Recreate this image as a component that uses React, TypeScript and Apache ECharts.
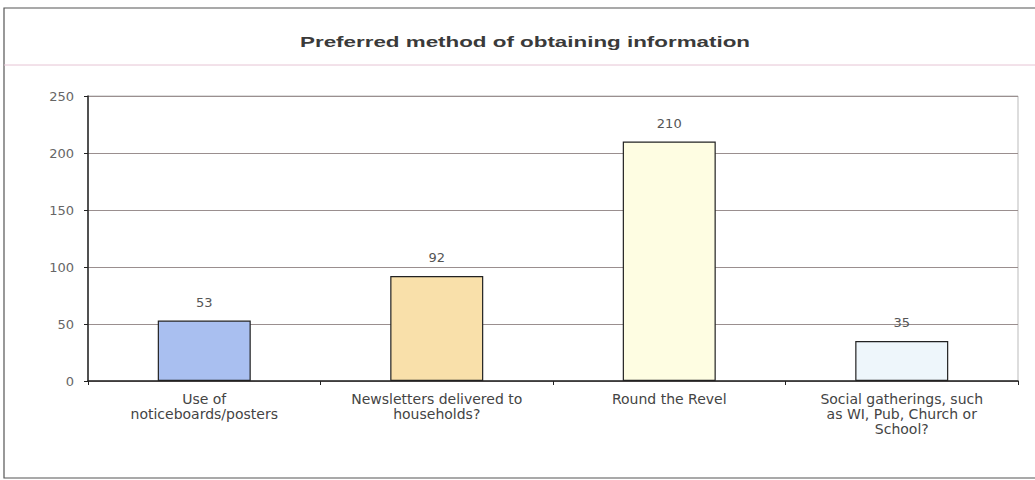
import React, { useEffect, useRef } from "react";
import * as echarts from "echarts";

const categories = [
  "Use of\nnoticeboards/posters",
  "Newsletters delivered to\nhouseholds?",
  "Round the Revel",
  "Social gatherings, such\nas WI, Pub, Church or\nSchool?",
];
const values = [53, 92, 210, 35];
const barColors = ["#a9bff0", "#f9e0aa", "#fefde2", "#eef6fb"];
const yTicks = { min: 0, max: 250, interval: 50 };
const titleText = "Preferred method of obtaining information";

export default function App() {
  const ref = useRef<HTMLDivElement>(null);
  useEffect(() => {
    document.body.style.margin = "0";
    const chart = echarts.init(ref.current!, null, { renderer: "svg" });
    const font = "DejaVu Sans, sans-serif";
    chart.setOption({
      animation: false,
      backgroundColor: "#ffffff",
      graphic: [
        {
          type: "rect",
          shape: { x: 4, y: 8, width: 1040, height: 470 },
          style: { fill: "none", stroke: "#555", lineWidth: 1.2 },
          silent: true,
        },
        {
          type: "line",
          shape: { x1: 4, y1: 65, x2: 1035, y2: 65 },
          style: { stroke: "#e6c4d4", lineWidth: 1 },
          silent: true,
        },
        {
          type: "text",
          x: 525,
          y: 42,
          scaleX: 1.6,
          style: {
            text: titleText,
            textAlign: "center",
            textVerticalAlign: "middle",
            fontFamily: "Liberation Sans, Arial, sans-serif",
            fontSize: 14,
            fontWeight: "bold",
            fill: "#3a3a3a",
          },
          silent: true,
        },
      ],
      grid: { left: 88, right: 17, top: 96, bottom: 99, show: true, borderColor: "#bbb", borderWidth: 1, backgroundColor: "transparent" },
      xAxis: {
        type: "category",
        data: categories,
        axisLine: { lineStyle: { color: "#222", width: 1.5 } },
        axisTick: { show: true, length: 4, lineStyle: { color: "#222" } },
        axisLabel: {
          interval: 0,
          fontFamily: font,
          fontSize: 14,
          color: "#444",
          lineHeight: 15,
          margin: 10,
        },
      },
      yAxis: {
        type: "value",
        min: yTicks.min,
        max: yTicks.max,
        interval: yTicks.interval,
        axisLine: { show: true, lineStyle: { color: "#222", width: 1.5 } },
        axisTick: { show: true, length: 4, lineStyle: { color: "#222" } },
        axisLabel: { fontFamily: font, fontSize: 13, color: "#666", margin: 14 },
        splitLine: { lineStyle: { color: "#9a8f8f", width: 1 } },
      },
      series: [
        {
          type: "bar",
          barWidth: "40%",
          data: values.map((v, i) => ({
            value: v,
            itemStyle: { color: barColors[i], borderColor: "#222", borderWidth: 1.2 },
          })),
          label: {
            show: true,
            position: "top",
            distance: 12,
            fontFamily: font,
            fontSize: 13,
            color: "#555",
          },
        },
      ],
    });
    return () => chart.dispose();
  }, []);
  return <div ref={ref} style={{ width: 1035, height: 480 }} />;
}
